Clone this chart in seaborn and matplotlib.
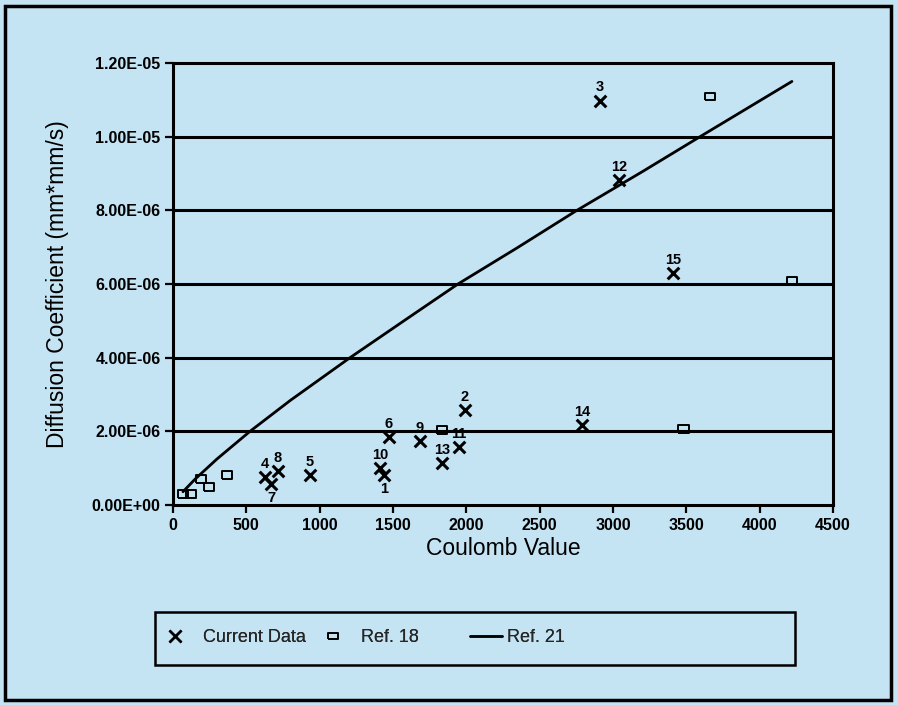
import matplotlib
matplotlib.use("Agg")
import matplotlib.pyplot as plt
import seaborn as sns
import pandas as pd
from matplotlib.patches import Rectangle
from matplotlib.lines import Line2D

# Current data (labelled points)
cur_labels = ["1", "2", "3", "4", "5", "6", "7", "8", "9", "10", "11", "12", "13", "14", "15"]
cur_x = [1438, 1990, 2911, 627, 934, 1472, 668, 716, 1684, 1411, 1950, 3040, 1834, 2788, 3408]
cur_y = [0.82e-6, 2.58e-6, 10.98e-6, 0.75e-6, 0.82e-6, 1.85e-6, 0.58e-6, 0.92e-6, 1.74e-6,
         1.0e-6, 1.58e-6, 8.83e-6, 1.14e-6, 2.17e-6, 6.30e-6]

# Ref. 18
ref18_x = [68, 123, 191, 245, 368, 1834, 3483, 4220, 3661]
ref18_y = [0.30e-6, 0.30e-6, 0.70e-6, 0.49e-6, 0.82e-6, 2.04e-6, 2.06e-6, 6.09e-6, 11.09e-6]

# Ref. 21 (curve read along its length)
ref21_x = [68, 150, 300, 525, 800, 1207, 1600, 1943, 2350, 2754, 3200, 3606, 4220]
ref21_y = [0.36e-6, 0.70e-6, 1.25e-6, 2.0e-6, 2.84e-6, 4.0e-6, 5.07e-6, 6.0e-6, 6.99e-6,
           8.0e-6, 9.05e-6, 10.03e-6, 11.5e-6]

xticks = [0, 500, 1000, 1500, 2000, 2500, 3000, 3500, 4000, 4500]
yticks = [0, 2e-6, 4e-6, 6e-6, 8e-6, 1e-5, 1.2e-5]
ytick_labels = ["0.00E+00", "2.00E-06", "4.00E-06", "6.00E-06", "8.00E-06", "1.00E-05", "1.20E-05"]
legend_labels = ["Current Data", "Ref. 18", "Ref. 21"]

BG = "#c4e3f3"
sns.set_theme(style="white")
plt.rcParams["font.family"] = ["Liberation Sans", "DejaVu Sans"]

W, H = 898, 705
fig = plt.figure(figsize=(W / 100, H / 100), dpi=100, facecolor=BG)
ax = fig.add_axes([173 / W, 1 - 505 / H, 660 / W, 442 / H])
ax.set_facecolor(BG)

cur_df = pd.DataFrame({"x": cur_x, "y": cur_y, "lab": cur_labels})
r18_df = pd.DataFrame({"x": ref18_x, "y": ref18_y})
r21_df = pd.DataFrame({"x": ref21_x, "y": ref21_y})

rect_marker = [(-1.4, -1.0), (1.4, -1.0), (1.4, 1.0), (-1.4, 1.0), (-1.4, -1.0)]

for yv in yticks[1:-1]:
    ax.axhline(yv, color="black", lw=2.2, zorder=1)

sns.lineplot(data=r21_df, x="x", y="y", ax=ax, color="black", lw=2, zorder=3, sort=True)
sns.scatterplot(data=cur_df, x="x", y="y", ax=ax, marker="x", s=70, color="black",
                linewidth=2.2, zorder=4)
sns.scatterplot(data=r18_df, x="x", y="y", ax=ax, marker=rect_marker, s=60, facecolor="none",
                edgecolor="black", linewidth=1.4, zorder=4)

# labels sit above the marks; the two crowded ones ("1", "7") go below theirs
below = {"1", "7"}
for lx, ly, lab in zip(cur_x, cur_y, cur_labels):
    dy = -10 if lab in below else 9.5
    ax.annotate(lab, (lx, ly), xytext=(0, dy), textcoords="offset points",
                ha="center", va="center", fontsize=10.5, fontweight="bold",
                color="black", zorder=5)

ax.set_xlim(0, 4500)
ax.set_ylim(0, 1.2e-5)
ax.set_xticks(xticks)
ax.set_xticklabels([str(t) for t in xticks], fontweight="bold")
ax.set_yticks(yticks)
ax.set_yticklabels(ytick_labels, fontweight="bold")
ax.tick_params(axis="both", direction="out", length=6, width=1.6, color="black",
               labelsize=11.5, labelcolor="black", bottom=True, left=True, pad=3)
for s in ax.spines.values():
    s.set_color("black")
    s.set_linewidth(2.2)
ax.set_xlabel("Coulomb Value", fontsize=16.5, color="black")
ax.set_ylabel("Diffusion Coefficient (mm*mm/s)", fontsize=16.5, color="black")
ax.xaxis.set_label_coords(0.5, -0.072)
ax.yaxis.set_label_coords(-0.158, 0.5)

# Legend: three entries placed like the original, inside one drawn box
handles = [
    Line2D([], [], marker="x", color="black", lw=0, markersize=8, markeredgewidth=1.8),
    Line2D([], [], marker=rect_marker, color="black", lw=0, markersize=7,
           markerfacecolor="none", markeredgewidth=1.2),
    Line2D([], [], color="black", lw=1.8),
]
entry_x = [160, 318, 470]
for h, lab, ex, hl, hp in zip(handles, legend_labels, entry_x, [1.7, 1.7, 1.75], [0.7, 0.7, 0.3]):
    lg = fig.legend([h], [lab], loc="center left", bbox_to_anchor=(ex / W, 1 - 638 / H),
                    fontsize=13, frameon=False, handlelength=hl, handletextpad=hp,
                    borderpad=0, borderaxespad=0)
    fig.add_artist(lg)

fig.patches.append(Rectangle((155 / W, 1 - 665 / H), 640 / W, 53 / H, transform=fig.transFigure,
                             fill=False, edgecolor="black", lw=1.8))
fig.patches.append(Rectangle((5 / W, 1 - 700 / H), 886 / W, 694 / H, transform=fig.transFigure,
                             fill=False, edgecolor="black", lw=2.5))

fig.savefig("out.png", dpi=100, facecolor=BG)
